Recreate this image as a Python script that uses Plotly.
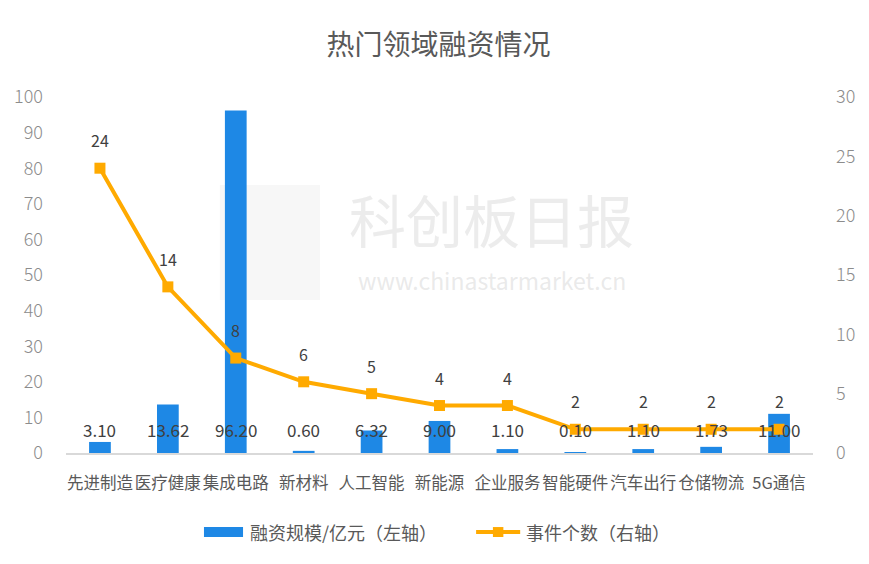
import plotly.graph_objects as go

categories = ["先进制造", "医疗健康", "集成电路", "新材料", "人工智能", "新能源",
              "企业服务", "智能硬件", "汽车出行", "仓储物流", "5G通信"]
funding = [3.10, 13.62, 96.20, 0.60, 6.32, 9.00, 1.10, 0.10, 1.10, 1.73, 11.00]
events = [24, 14, 8, 6, 5, 4, 4, 2, 2, 2, 2]
left_ticks = [0, 10, 20, 30, 40, 50, 60, 70, 80, 90, 100]
right_ticks = [0, 5, 10, 15, 20, 25, 30]
bar_name = "融资规模/亿元（左轴）"
line_name = "事件个数（右轴）"

FONT = "Noto Sans CJK SC"
BAR = "#1E88E5"
LINE = "#FFAA00"

fig = go.Figure()
fig.add_trace(go.Bar(x=categories, y=funding, name=bar_name,
                     marker=dict(color=BAR, line=dict(width=0)), width=0.32, yaxis="y"))
fig.add_trace(go.Scatter(x=categories, y=events, name=line_name, mode="lines+markers",
                         line=dict(color=LINE, width=4),
                         marker=dict(symbol="square", size=11, color=LINE), yaxis="y2"))

ann = []
for c, v in zip(categories, funding):
    ann.append(dict(x=c, y=6.5, xref="x", yref="y", text=f"{v:.2f}", showarrow=False,
                    font=dict(family=FONT, size=17, color="#404040")))
for c, v in zip(categories, events):
    ann.append(dict(x=c, y=v, xref="x", yref="y2", text=str(v), showarrow=False, yshift=28,
                    font=dict(family=FONT, size=16, color="#404040")))
# watermark
ann.append(dict(x=0.57, y=0.66, xref="paper", yref="paper", text="科创板日报", showarrow=False,
                font=dict(family=FONT, size=57, color="rgba(200,200,200,0.35)")))
ann.append(dict(x=0.57, y=0.485, xref="paper", yref="paper", text="www.chinastarmarket.cn", showarrow=False,
                font=dict(family=FONT, size=23, color="rgba(200,200,200,0.4)")))
# legend (manual)
ann.append(dict(x=0.2436, y=-0.222, xref="paper", yref="paper", text=bar_name, showarrow=False,
                xanchor="left", yanchor="middle", font=dict(family=FONT, size=18, color="#595959")))
ann.append(dict(x=0.613, y=-0.222, xref="paper", yref="paper", text=line_name, showarrow=False,
                xanchor="left", yanchor="middle", font=dict(family=FONT, size=18, color="#595959")))

shapes = [
    dict(type="rect", xref="paper", yref="paper", x0=0.206, x1=0.34, y0=0.43, y1=0.753,
         fillcolor="rgba(200,200,200,0.15)", line=dict(width=0), layer="below"),
    dict(type="rect", xref="paper", yref="paper", x0=0.1847, x1=0.237, y0=-0.236, y1=-0.208,
         fillcolor=BAR, line=dict(width=0)),
    dict(type="line", xref="paper", yref="paper", x0=0.549, x1=0.608, y0=-0.222, y1=-0.222,
         line=dict(color=LINE, width=4)),
    dict(type="rect", xref="paper", yref="paper", x0=0.5715, x1=0.5855, y0=-0.236, y1=-0.208,
         fillcolor=LINE, line=dict(width=0)),
]

fig.update_layout(
    width=861, height=556,
    margin=dict(l=58, r=56, t=89, b=111, autoexpand=False),
    paper_bgcolor="white", plot_bgcolor="white",
    title=dict(text="热门领域融资情况", x=0.5, xanchor="center", y=0.933, yanchor="middle",
               font=dict(family=FONT, size=28, color="#595959")),
    font=dict(family=FONT, color="#595959"),
    xaxis=dict(showgrid=False, showline=True, linecolor="#D9D9D9", linewidth=1.5, ticks="",
               automargin=False, tickangle=0, range=[-0.5, len(categories) - 0.5],
               tickfont=dict(family=FONT, size=16.5, color="#595959"), ticklabelstandoff=14),
    yaxis=dict(range=[0, 100], tickvals=left_ticks, showgrid=False, zeroline=False, showline=False,
               automargin=False,
               tickfont=dict(family=FONT, size=18, color="#8C8C8C", weight=300), ticklabelstandoff=22),
    yaxis2=dict(range=[0, 30], tickvals=right_ticks, overlaying="y", side="right", showgrid=False,
                zeroline=False, showline=False, automargin=False,
                tickfont=dict(family=FONT, size=18, color="#8C8C8C", weight=300), ticklabelstandoff=22),
    annotations=ann,
    shapes=shapes,
    showlegend=False,
)

fig.write_html("out.html")
